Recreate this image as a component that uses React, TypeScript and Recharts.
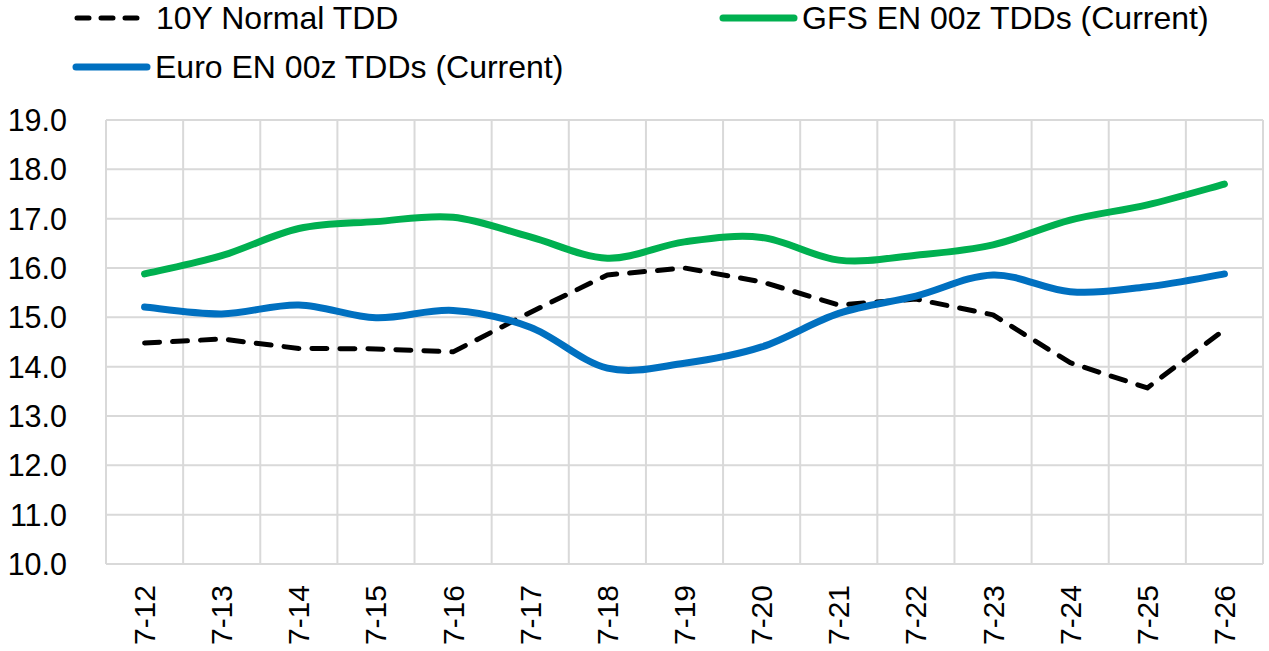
import { CartesianGrid, Line, LineChart, XAxis, YAxis } from "recharts";

const days = ["7-12", "7-13", "7-14", "7-15", "7-16", "7-17", "7-18", "7-19", "7-20", "7-21", "7-22", "7-23", "7-24", "7-25", "7-26"];
const normalTdd = [14.48, 14.56, 14.37, 14.36, 14.3, 15.1, 15.86, 16.0, 15.72, 15.25, 15.37, 15.05, 14.08, 13.57, 14.75];
const gfsTdd = [15.88, 16.25, 16.8, 16.94, 17.03, 16.63, 16.2, 16.53, 16.62, 16.16, 16.26, 16.47, 16.97, 17.28, 17.7];
const euroTdd = [15.21, 15.07, 15.25, 14.99, 15.14, 14.8, 13.97, 14.07, 14.4, 15.08, 15.43, 15.86, 15.52, 15.62, 15.88];
const yTicks = [10, 11, 12, 13, 14, 15, 16, 17, 18, 19];

const rows = days.map((d, i) => ({ d, normal: normalTdd[i], gfs: gfsTdd[i], euro: euroTdd[i] }));

const FONT = "'Liberation Sans', Arial, sans-serif";
const W = 1269;
const H = 651;
const LEFT = 106;
const RIGHT = 6;
const TOP = 120;
const BOTTOM = 87;
const plotW = W - LEFT - RIGHT;
const half = plotW / days.length / 2;

// smooth like excel: bezier with catmull-rom control points
const excelSmooth = (ctx: any) => {
  let pts: number[][] = [];
  return {
    areaStart() {},
    areaEnd() {},
    lineStart() {
      pts = [];
    },
    point(x: number, y: number) {
      pts.push([+x, +y]);
    },
    lineEnd() {
      if (!pts.length) return;
      ctx.moveTo(pts[0][0], pts[0][1]);
      for (let i = 0; i < pts.length - 1; i++) {
        const p0 = pts[i - 1] || pts[i];
        const p1 = pts[i];
        const p2 = pts[i + 1];
        const p3 = pts[i + 2] || p2;
        ctx.bezierCurveTo(
          p1[0] + (p2[0] - p0[0]) / 6,
          p1[1] + (p2[1] - p0[1]) / 6,
          p2[0] - (p3[0] - p1[0]) / 6,
          p2[1] - (p3[1] - p1[1]) / 6,
          p2[0],
          p2[1]
        );
      }
    },
  };
};

const XTick = ({ x, y, payload }: any) => (
  <text
    x={x}
    y={y}
    transform={`rotate(-90 ${x} ${y})`}
    textAnchor="end"
    dy="0.35em"
    fontSize={30}
    fontFamily={FONT}
    fill="#000"
  >
    {payload.value}
  </text>
);

const YTick = ({ y, payload }: any) => (
  <text x={67} y={y} textAnchor="end" dy="0.36em" fontSize={30.5} fontFamily={FONT} fill="#000">
    {Number(payload.value).toFixed(1)}
  </text>
);

const LegendItem = ({ left, top, color, dashed, label }: any) => (
  <div style={{ position: "absolute", left, top, display: "flex", alignItems: "center", height: 36 }}>
    <svg width={80} height={12} style={{ marginRight: 3 }}>
      <line
        x1={4}
        x2={dashed ? 66 : 75}
        y1={6}
        y2={6}
        stroke={color}
        strokeWidth={dashed ? 5 : 7}
        strokeLinecap="round"
        strokeDasharray={dashed ? "12 12" : undefined}
      />
    </svg>
    <span style={{ fontFamily: FONT, fontSize: 32, color: "#000", whiteSpace: "nowrap", lineHeight: "36px" }}>
      {label}
    </span>
  </div>
);

export default function App() {
  return (
    <div style={{ position: "absolute", left: 0, top: 0, width: W, height: H, background: "#fff" }}>
      <LegendItem left={73} top={0} color="#000" dashed label="10Y Normal TDD" />
      <LegendItem left={719} top={0} color="#00B050" label="GFS EN 00z TDDs (Current)" />
      <LegendItem left={72} top={49} color="#0070C0" label="Euro EN 00z TDDs (Current)" />
      <LineChart width={W} height={H} data={rows} margin={{ top: TOP, right: RIGHT, bottom: 0, left: 0 }}>
        <CartesianGrid
          stroke="#D9D9D9"
          strokeWidth={2}
          verticalCoordinatesGenerator={({ offset }: any) =>
            days.map((_, i) => offset.left + (i * offset.width) / days.length).concat([offset.left + offset.width])
          }
        />
        <XAxis
          dataKey="d"
          height={BOTTOM}
          padding={{ left: half, right: half }}
          axisLine={false}
          tickLine={false}
          tickSize={0}
          tickMargin={21}
          interval={0}
          tick={<XTick />}
        />
        <YAxis
          width={LEFT}
          domain={[10, 19]}
          ticks={yTicks}
          axisLine={false}
          tickLine={false}
          tick={<YTick />}
          interval={0}
        />
        <Line
          dataKey="normal"
          type="linear"
          stroke="#000"
          strokeWidth={5}
          strokeDasharray="15 13"
          strokeLinecap="round"
          strokeLinejoin="round"
          dot={false}
          isAnimationActive={false}
        />
        <Line
          dataKey="gfs"
          type={excelSmooth as any}
          stroke="#00B050"
          strokeWidth={7}
          strokeLinecap="round"
          dot={false}
          isAnimationActive={false}
        />
        <Line
          dataKey="euro"
          type={excelSmooth as any}
          stroke="#0070C0"
          strokeWidth={7}
          strokeLinecap="round"
          dot={false}
          isAnimationActive={false}
        />
      </LineChart>
    </div>
  );
}
